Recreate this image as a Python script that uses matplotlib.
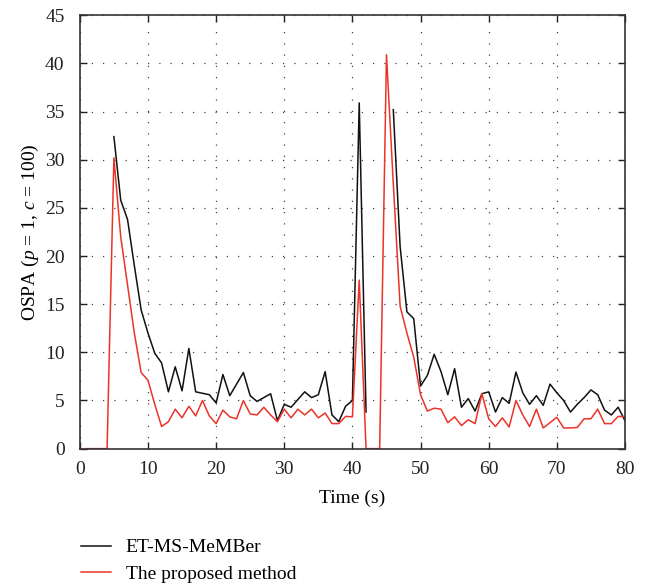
import numpy as np
import matplotlib
matplotlib.use("Agg")
import matplotlib.pyplot as plt

plt.rcParams["font.family"] = ["Liberation Serif", "DejaVu Serif"]
plt.rcParams["mathtext.fontset"] = "custom"
plt.rcParams["mathtext.rm"] = "Liberation Serif"
plt.rcParams["mathtext.it"] = "Liberation Serif:italic"

time_s = list(range(1, 81))

nan = np.nan
et_ms_member = [
    nan, nan, nan, nan, 32.4, 25.8, 23.8, 19.0, 14.4, 12.0,
    9.9, 8.9, 5.9, 8.5, 6.0, 10.4, 5.9, 5.75, 5.6, 4.75,
    7.7, 5.5, 6.7, 7.9, 5.5, 4.9, 5.3, 5.7, 2.9, 4.6,
    4.3, 5.1, 5.9, 5.3, 5.6, 8.0, 3.5, 2.8, 4.4, 5.0,
    35.9, 3.8, nan, nan, nan, 35.2, 21.0, 14.2, 13.5, 6.5,
    7.6, 9.8, 8.0, 5.6, 8.3, 4.3, 5.2, 3.9, 5.7, 5.9,
    3.8, 5.3, 4.7, 7.95, 5.8, 4.6, 5.5, 4.5, 6.7, 5.8,
    5.0, 3.8, 4.6, 5.3, 6.1, 5.6, 4.0, 3.5, 4.3, 2.9,
]

proposed = [
    0, 0, 0, 0, 30.2, 22.0, 17.0, 12.0, 7.9, 7.1,
    4.6, 2.3, 2.8, 4.1, 3.2, 4.4, 3.4, 5.0, 3.4, 2.6,
    4.0, 3.3, 3.1, 5.0, 3.6, 3.5, 4.3, 3.5, 2.8, 4.1,
    3.2, 4.1, 3.5, 4.1, 3.2, 3.7, 2.6, 2.6, 3.35, 3.3,
    17.5, 0, 0, 0, 40.9, 27.5, 14.8, 12.0, 9.5, 5.6,
    3.9, 4.2, 4.1, 2.7, 3.3, 2.4, 3.0, 2.6, 5.7, 3.1,
    2.3, 3.2, 2.25, 5.0, 3.5, 2.3, 4.1, 2.15, 2.7, 3.25,
    2.15, 2.15, 2.2, 3.1, 3.1, 4.1, 2.6, 2.6, 3.35, 3.3,
]

fig = plt.figure(figsize=(6.49, 5.88), dpi=100)
ax = fig.add_axes([0.123, 0.237, 0.840, 0.737])

ax.plot(time_s, et_ms_member, color="#111111", lw=1.1, label="ET-MS-MeMBer")
ax.plot(time_s, proposed, color="#ec3328", lw=1.1, label="The proposed method")

ax.set_xlim(0, 80)
ax.set_ylim(0, 45)
ax.set_xticks(range(0, 81, 10))
ax.set_yticks(range(0, 46, 5))
ax.grid(True, color="#444444", linestyle=(0, (1, 8)), lw=0.9)
ax.tick_params(direction="in", length=5, width=1, top=True, right=True,
               labelsize=14, colors="#222222")
ax.tick_params(axis="y", pad=11)
ax.tick_params(axis="x", pad=9)
for s in ax.spines.values():
    s.set_linewidth(1.2)
    s.set_color("#333333")

ax.set_xlabel("Time (s)", fontsize=14, labelpad=8)
ax.set_ylabel("OSPA ($p$ = 1, $c$ = 100)", fontsize=14, labelpad=3)

leg = fig.legend(loc="upper left", bbox_to_anchor=(0.113, 0.097), frameon=False,
                 fontsize=14, handlelength=1.55, handletextpad=0.75, labelspacing=0.45,
                 borderaxespad=0)

fig.savefig("out.png", dpi=100)
